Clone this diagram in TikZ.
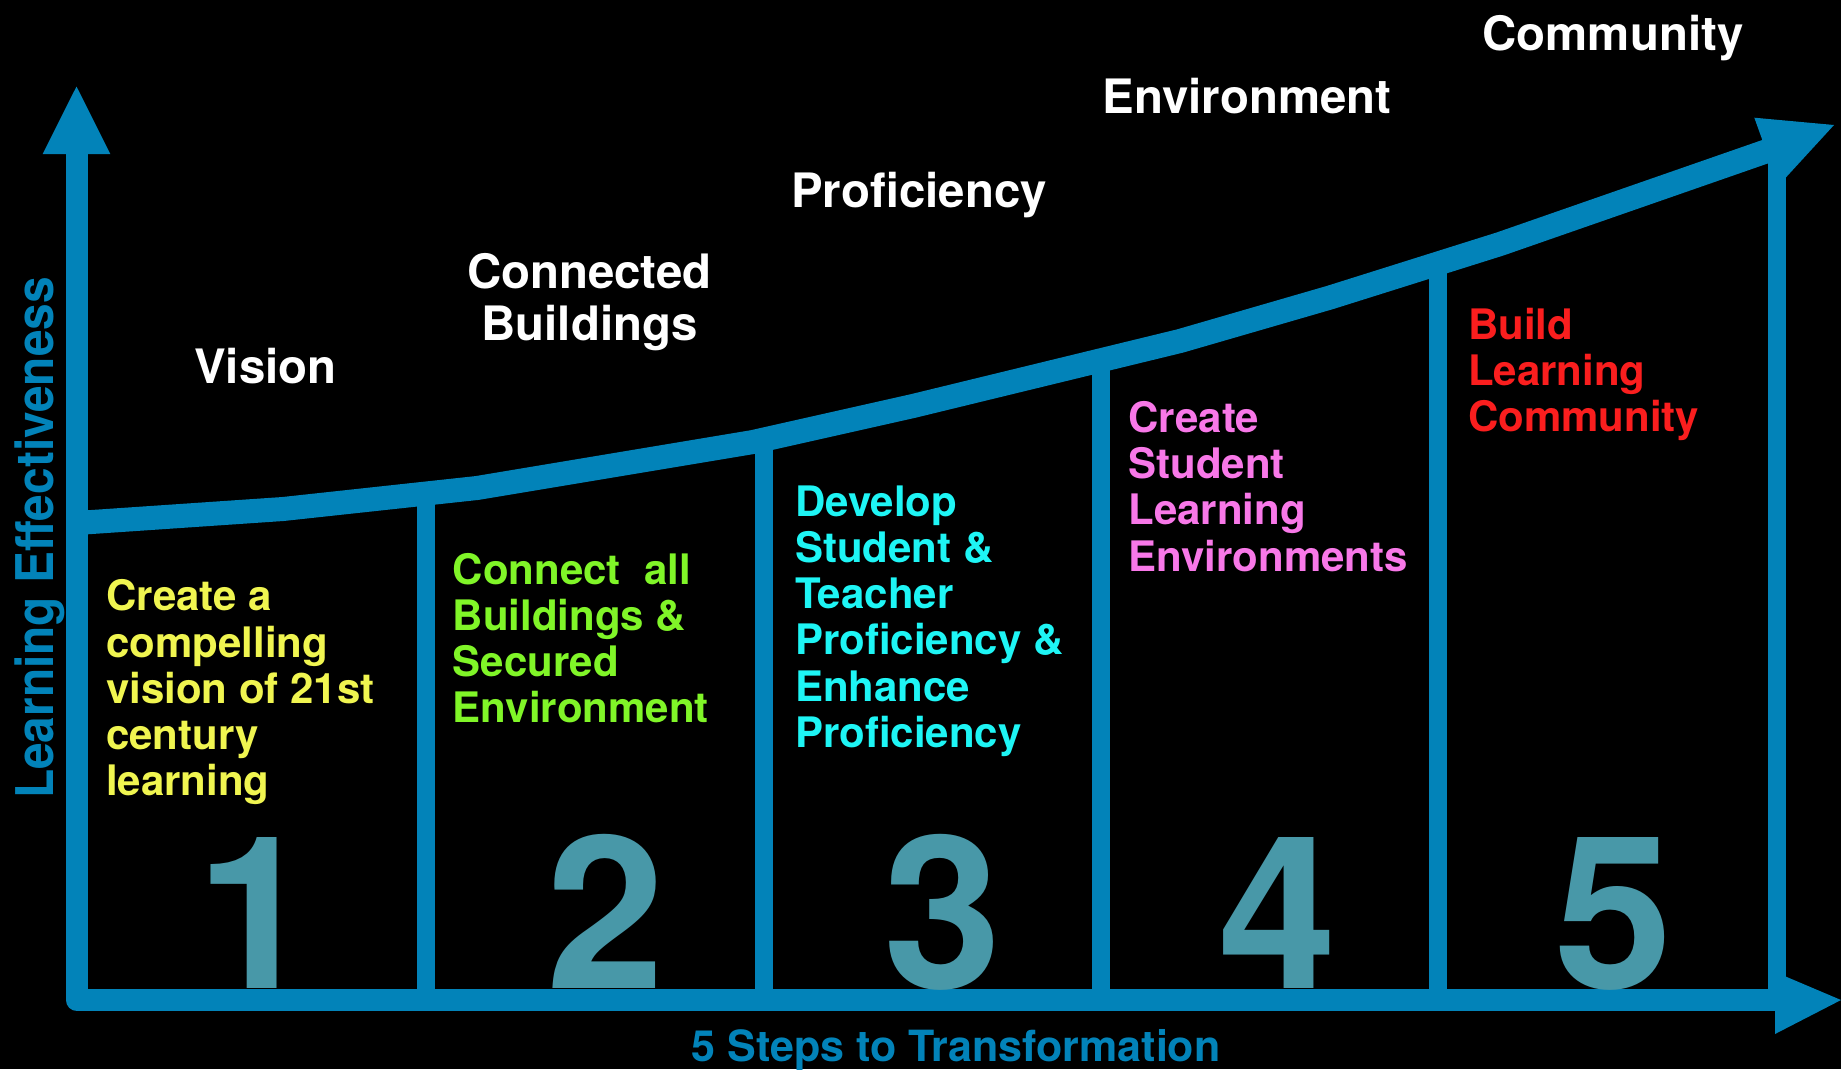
\documentclass[tikz,border=0pt]{standalone}
\usepackage{fontspec}
\setmainfont{TeX Gyre Heros}
\newfontfamily\condfont[FakeStretch=0.92]{TeX Gyre Heros}
\definecolor{axisblue}{RGB}{2,131,185}
\definecolor{digitcol}{RGB}{72,152,168}
\definecolor{tyellow}{RGB}{240,245,80}
\definecolor{tgreen}{RGB}{128,245,40}
\definecolor{tcyan}{RGB}{30,245,245}
\definecolor{tpink}{RGB}{248,120,232}
\definecolor{tred}{RGB}{250,30,30}
\begin{document}
\begin{tikzpicture}[x=1pt,y=-1pt,
  title/.style={text=white,font=\fontsize{47.4}{52}\selectfont\bfseries,inner sep=0pt,anchor=base},
  block/.style={font=\fontsize{42}{46.3}\selectfont\bfseries,inner sep=0pt,anchor=base west},
  digit/.style={text=digitcol,font=\fontsize{213}{213}\selectfont\bfseries,inner sep=0pt,anchor=base},
  axisline/.style={draw=axisblue,line width=22.5pt,line join=round},
  curveline/.style={draw=axisblue,line width=24pt,line join=round},
  divider/.style={draw=axisblue,line width=18pt},
  headfill/.style={fill=axisblue}]
% background
\fill[black] (0,0) rectangle (1841,1069);
\useasboundingbox (0,0) rectangle (1841,1069);
% coordinates
\coordinate (ytop) at (77,150);
\coordinate (orig) at (77,1000);
\coordinate (xend) at (1778,1000);
\coordinate (yh1) at (42.7,154);
\coordinate (yh2) at (110.3,154);
\coordinate (yh3) at (76.5,86.5);
\coordinate (xh1) at (1775,972);
\coordinate (xh2) at (1775,1034);
\coordinate (xh3) at (1841,1000);
\coordinate (c0) at (77,523);
\coordinate (c1) at (283,509);
\coordinate (c2) at (477,488);
\coordinate (c3) at (753,442);
\coordinate (c4) at (913,406);
\coordinate (c5) at (1180,341);
\coordinate (c6) at (1330,297.5);
\coordinate (c7) at (1500,244);
\coordinate (c8) at (1770,150);
\coordinate (ch1) at (1754.3,117.7);
\coordinate (ch2) at (1834,125);
\coordinate (ch3) at (1778.6,185.4);
\coordinate (d1t) at (426,493.5);
\coordinate (d2t) at (764,439.5);
\coordinate (d3t) at (1101,360);
\coordinate (d4t) at (1438,263.5);
\coordinate (d5t) at (1777,160);
\coordinate (d1b) at (426,1000);
\coordinate (d2b) at (764,1000);
\coordinate (d3b) at (1101,1000);
\coordinate (d4b) at (1438,1000);
\coordinate (d5b) at (1777,1000);
% dividers
\draw[divider] (d1t) -- (d1b);
\draw[divider] (d2t) -- (d2b);
\draw[divider] (d3t) -- (d3b);
\draw[divider] (d4t) -- (d4b);
\draw[divider] (d5t) -- (d5b);
% axes
\draw[axisline] (ytop) -- (orig) -- (xend);
\fill[headfill] (yh1) -- (yh2) -- (yh3) -- cycle;
\fill[headfill] (xh1) -- (xh2) -- (xh3) -- cycle;
% rising curve
\draw[curveline] (c0) -- (c1) -- (c2) -- (c3) -- (c4) -- (c5) -- (c6) -- (c7) -- (c8);
\fill[headfill] (ch1) -- (ch2) -- (ch3) -- cycle;
% axis labels
\node[rotate=90,anchor=base,inner sep=0pt,text=axisblue,font=\condfont\fontsize{52}{52}\selectfont\bfseries] (ylab) at (53,538) {Learning Effectiveness};
\node[anchor=base,inner sep=0pt,text=axisblue,font=\fontsize{43}{46}\selectfont\bfseries] (xlab) at (956,1061.7) {5 Steps to Transformation};
% titles
\node[title] (t1) at (265.5,383) {Vision};
\node[title] (t2) at (589.5,288) {\begin{tabular}[t]{@{}c@{}}Connected\\Buildings\end{tabular}};
\node[title] (t3) at (919,207.5) {Proficiency};
\node[title] (t4) at (1247,113) {Environment};
\node[title] (t5) at (1613,50) {Community};
% step texts
\node[block,text=tyellow] (b1) at (106,610.7) {\begin{tabular}[t]{@{}l@{}}Create a\\compelling\\vision of 21st\\century\\learning\end{tabular}};
\node[block,text=tgreen] (b2) at (452.7,584) {\begin{tabular}[t]{@{}l@{}}Connect~ all\\Buildings \&\\Secured\\Environment\end{tabular}};
\node[block,text=tcyan] (b3) at (795,516) {\begin{tabular}[t]{@{}l@{}}Develop\\Student \&\\Teacher\\Proficiency \&\\Enhance\\Proficiency\end{tabular}};
\node[block,text=tpink] (b4) at (1128.3,432.3) {\begin{tabular}[t]{@{}l@{}}Create\\Student\\Learning\\Environments\end{tabular}};
\node[block,text=tred] (b5) at (1468,339.3) {\begin{tabular}[t]{@{}l@{}}Build\\Learning\\Community\end{tabular}};
% digits
\node[digit] (n1) at (255.4,988) {1};
\node[digit] (n2) at (606,988) {2};
\node[digit] (n3) at (942.6,988) {3};
\node[digit] (n4) at (1278,988) {4};
\node[digit] (n5) at (1614,988) {5};
\end{tikzpicture}
\end{document}
